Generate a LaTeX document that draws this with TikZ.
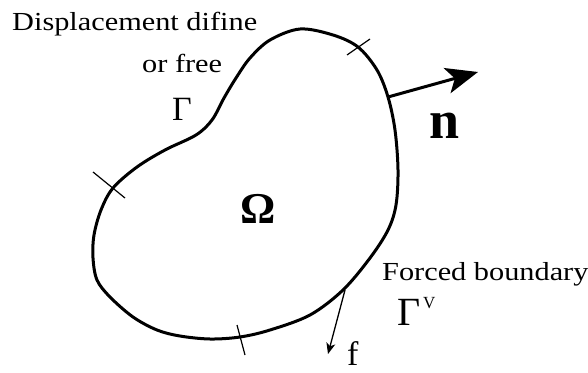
\documentclass[tikz,border=0pt]{standalone}
\usepackage{fontspec}
\setmainfont{Liberation Serif}
\usetikzlibrary{arrows.meta}
\begin{document}
\begin{tikzpicture}[x=1pt,y=-1pt,
  lbl/.style={inner sep=0pt, anchor=base west},
  bnd/.style={line width=3pt, line join=round},
  tickmark/.style={line width=1.2pt},
  bigarrow/.style={line width=3pt, -{Stealth[length=32pt, width=26pt, inset=8pt]}},
  smallarrow/.style={line width=1.3pt, -{Stealth[length=11pt, width=9pt, inset=3pt]}},
]
\useasboundingbox (0,0) rectangle (588,372);
\draw[bnd] plot[smooth cycle, tension=0.55] coordinates {
  (300,29) (333,35) (358,47) (377,70) (388,97) (395,130) (398,170) (396,205)
  (388,230) (370,258) (343,290) (310,315) (270,330) (240,337) (210,339)
  (180,336) (157,330) (133,317) (110,297) (97,280) (93,258) (94,235)
  (101,210) (113,188) (137,167) (165,150) (196,135) (212,120) (224,98)
  (236,78) (250,58) (270,40)};
% ticks
\coordinate (t1a) at (347,55); \coordinate (t1b) at (370,39);
\coordinate (t2a) at (93,172); \coordinate (t2b) at (125,198);
\coordinate (t3a) at (237,325); \coordinate (t3b) at (245,355);
\draw[tickmark] (t1a) -- (t1b);
\draw[tickmark] (t2a) -- (t2b);
\draw[tickmark] (t3a) -- (t3b);
% normal arrow
\coordinate (nstart) at (388,97);
\coordinate (nend) at (478,72);
\draw[bigarrow] (nstart) -- (nend);
% force arrow
\coordinate (fstart) at (345,290);
\coordinate (fend) at (328,354);
\draw[smallarrow] (fstart) -- (fend);
% labels
\node[lbl] (disp) at (12,30) {\scalebox{1.166}[1]{\fontsize{26}{30}\selectfont Displacement difine}};
\node[lbl] (orfree) at (142,72) {\scalebox{1.166}[1]{\fontsize{26}{30}\selectfont or free}};
\node[lbl] (gam) at (172,120) {\fontsize{34}{40}\selectfont Γ};
\node[lbl] (omega) at (240,223) {\fontsize{44}{50}\selectfont\bfseries Ω};
\node[lbl] (nlab) at (429,138) {\fontsize{54}{60}\selectfont\bfseries n};
\node[lbl] (forced) at (382,280) {\scalebox{1.166}[1]{\fontsize{26}{30}\selectfont Forced boundary}};
\node[lbl] (gamv) at (397,325) {\fontsize{40}{46}\selectfont Γ};
\node[lbl] (vsup) at (423,308) {\fontsize{17}{20}\selectfont V};
\node[lbl] (flab) at (347,365) {\fontsize{34}{38}\selectfont f};
\end{tikzpicture}
\end{document}
